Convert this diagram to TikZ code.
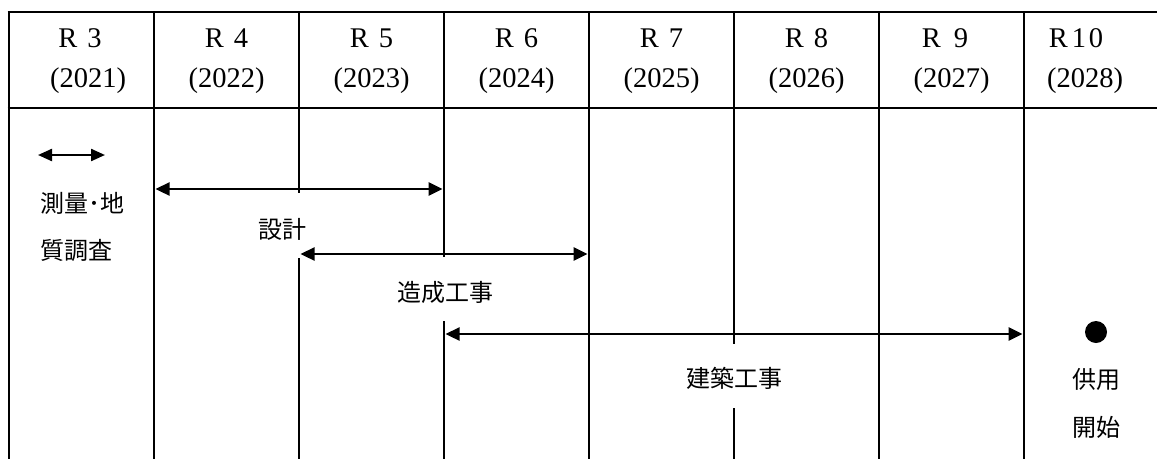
\documentclass[tikz,border=0pt]{standalone}
\usepackage{fontspec}
\newfontfamily\jp{Noto Sans CJK JP}
\newfontfamily\hdrfont{Liberation Serif}
\usetikzlibrary{arrows.meta}
\begin{document}
\begin{tikzpicture}[x=1pt,y=-1pt,
  grid/.style={line width=2.8pt},
  conn/.style={line width=2.3pt,{Triangle[length=14pt,width=13pt]}-{Triangle[length=14pt,width=13pt]}},
  hdr/.style={font=\hdrfont\fontsize{28.5}{28.5}\selectfont, inner sep=0, anchor=base},
  lbl/.style={font=\jp\fontsize{24}{24}\selectfont, inner sep=0}]
\useasboundingbox (0,0) rectangle (1157,459);
% table frame
\draw[grid] (7.6,12) -- (1157,12);
\draw[grid] (7.6,108) -- (1157,108);
\draw[grid] (9,12) -- (9,459);
\draw[grid] (154,12) -- (154,459);
\draw[grid] (299,12) -- (299,193);
\draw[grid] (299,258) -- (299,459);
\draw[grid] (444,12) -- (444,257);
\draw[grid] (444,321) -- (444,459);
\draw[grid] (589,12) -- (589,459);
\draw[grid] (734,12) -- (734,344);
\draw[grid] (734,408) -- (734,459);
\draw[grid] (879,12) -- (879,459);
\draw[grid] (1024,12) -- (1024,459);
% header
\node[hdr] (r3) at (80,47) {R\hspace{10pt}3};
\node[hdr] (r4) at (226.5,47) {R\hspace{10pt}4};
\node[hdr] (r5) at (371.5,47) {R\hspace{10pt}5};
\node[hdr] (r6) at (516.5,47) {R\hspace{10pt}6};
\node[hdr] (r7) at (661.5,47) {R\hspace{10pt}7};
\node[hdr] (r8) at (806.5,47) {R\hspace{10pt}8};
\node[hdr] (r9) at (945,47) {R\hspace{13pt}9};
\node[hdr] (r10) at (1076,47) {R\hspace{4pt}1\hspace{3pt}0};
\node[hdr] (y3) at (88,87) {(2021)};
\node[hdr] (y4) at (226.5,87) {(2022)};
\node[hdr] (y5) at (371.5,87) {(2023)};
\node[hdr] (y6) at (516.5,87) {(2024)};
\node[hdr] (y7) at (661.5,87) {(2025)};
\node[hdr] (y8) at (806.5,87) {(2026)};
\node[hdr] (y9) at (951.5,87) {(2027)};
\node[hdr] (y10) at (1085,87) {(2028)};
% legend arrow
\coordinate (la) at (38,155);
\coordinate (lb) at (105,155);
\draw[conn,{Triangle[length=14pt,width=12pt]}-{Triangle[length=14pt,width=12pt]}] (la) -- (lb);
\node[lbl, anchor=west] (survey1) at (40,203) {測量･地};
\node[lbl, anchor=west] (survey2) at (40,250) {質調査};
% design
\coordinate (d1) at (155.5,189);
\coordinate (d2) at (442.6,189);
\draw[conn] (d1) -- (d2);
\node[lbl] (design) at (282,229) {設計};
% grading works
\coordinate (g1) at (300.5,254);
\coordinate (g2) at (587.6,254);
\draw[conn] (g1) -- (g2);
\node[lbl] (grading) at (445,292) {造成工事};
% building works
\coordinate (b1) at (445.5,334);
\coordinate (b2) at (1022.6,334);
\draw[conn] (b1) -- (b2);
\node[lbl] (building) at (734,378) {建築工事};
% opening
\node[circle, fill=black, minimum size=22pt, inner sep=0] (dot) at (1096,332) {};
\node[lbl] (open1) at (1096,379) {供用};
\node[lbl] (open2) at (1096,427) {開始};
\end{tikzpicture}
\end{document}
